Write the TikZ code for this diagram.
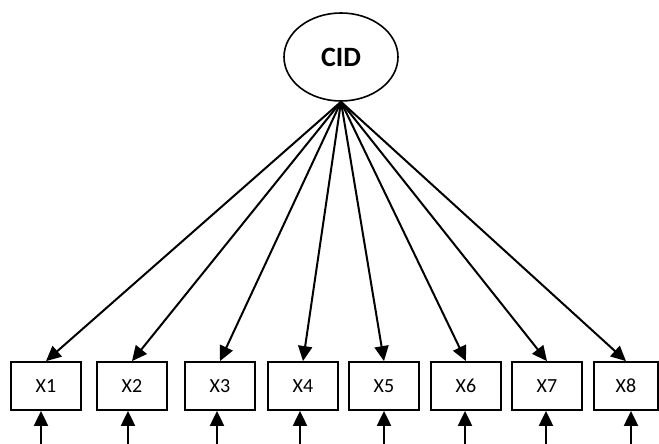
\documentclass[tikz,border=0pt]{standalone}
\usepackage{fontspec}
\setmainfont{Carlito}
\usetikzlibrary{shapes.geometric,arrows.meta}

\begin{document}
\begin{tikzpicture}[x=1pt,y=1pt,font=\fontsize{20}{24}\selectfont,
	latent/.style={ellipse,draw,line width=1.6pt,minimum width=114pt,minimum height=88pt,inner sep=0pt,font=\fontsize{28}{30}\selectfont\bfseries},
	item/.style={rectangle,draw,line width=1.8pt,minimum width=70pt,minimum height=48pt,inner sep=0pt},
	load/.style={-{Triangle[length=15pt,width=14pt]},line width=2pt}]
	\useasboundingbox (0,0) rectangle (659,444);

	\node[latent] (cid) at (341,387) {CID};

	% indicators
	\node[item] (x1) at (46,58)  {X1};
	\node[item] (x2) at (132,58) {X2};
	\node[item] (x3) at (220,58) {X3};
	\node[item] (x4) at (303,58) {X4};
	\node[item] (x5) at (384,58) {X5};
	\node[item] (x6) at (466,58) {X6};
	\node[item] (x7) at (547,58) {X7};
	\node[item,minimum width=64pt] (x8) at (626,58) {X8};

		\path[load] (cid.south) edge (x1.north);
		\path[load] (cid.south) edge (x2.north);
		\path[load] (cid.south) edge (x3.north);
		\path[load] (cid.south) edge (x4.north);
		\path[load] (cid.south) edge (x5.north);
		\path[load] (cid.south) edge (x6.north);
		\path[load] (cid.south) edge (x7.north);
		\path[load] (cid.south) edge (x8.north);

	% error terms
	\coordinate (e1) at (41,0);
	\coordinate (e2) at (128,0);
	\coordinate (e3) at (217,0);
	\coordinate (e4) at (300,0);
	\coordinate (e5) at (384,0);
	\coordinate (e6) at (465,0);
	\coordinate (e7) at (546,0);
	\coordinate (e8) at (631,0);

		\path[load] (e1) edge (e1 |- x1.south);
		\path[load] (e2) edge (e2 |- x2.south);
		\path[load] (e3) edge (e3 |- x3.south);
		\path[load] (e4) edge (e4 |- x4.south);
		\path[load] (e5) edge (e5 |- x5.south);
		\path[load] (e6) edge (e6 |- x6.south);
		\path[load] (e7) edge (e7 |- x7.south);
		\path[load] (e8) edge (e8 |- x8.south);
\end{tikzpicture}
\end{document}
